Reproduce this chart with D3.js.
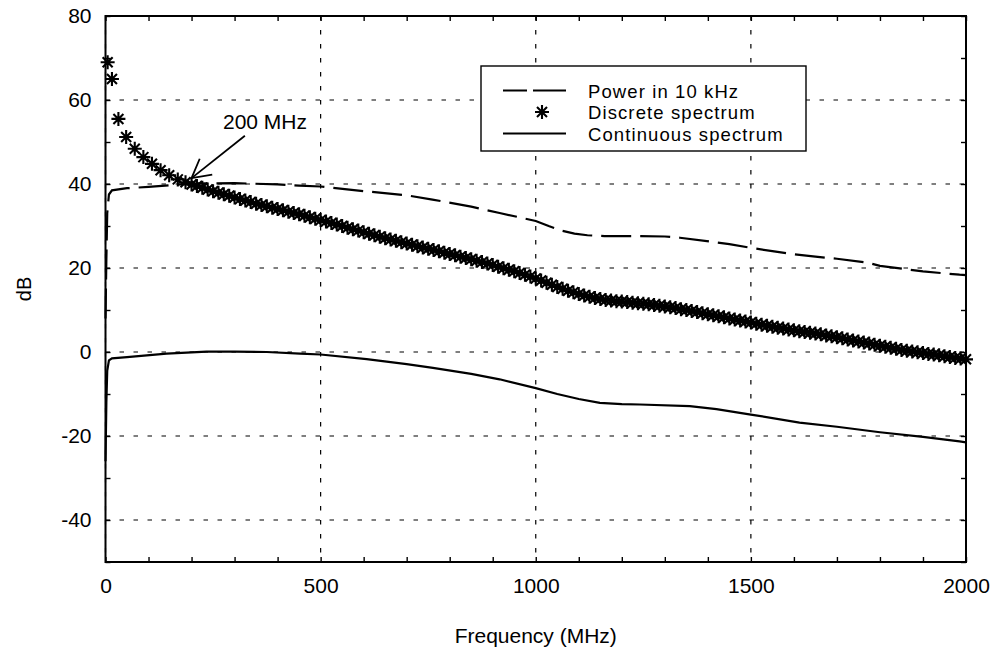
<!DOCTYPE html>
<html lang="en">
<head>
<meta charset="UTF-8">
<title>Spectrum vs frequency</title>
<script src="https://d3js.org/d3.v7.min.js"></script>
<style>
  body { margin: 0; background: #fff; }
  svg text { font-family: "Liberation Sans", Arial, sans-serif; fill: #000; }
</style>
</head>
<body>
<div id="chart"></div>
<script>

// ---- data ----
var freqTicks = [0, 500, 1000, 1500, 2000];
var dbTicks = [-40, -20, 0, 20, 40, 60, 80];

// Power in 10 kHz (dashed)
var powerFreq = [0, 2, 4, 8, 15, 50, 100, 150, 200, 300, 400, 450, 500, 600, 700, 760, 850, 916, 1000, 1030, 1060, 1090, 1120, 1160, 1226, 1300, 1335, 1405, 1450, 1500, 1550, 1590, 1650, 1700, 1770, 1800, 1900, 1985, 2000];
var powerDb   = [8, 22, 33, 37.5, 38.5, 39, 39.3, 39.7, 40.1, 40.2, 39.9, 39.6, 39.4, 38.3, 37.3, 36.3, 34.6, 33.1, 31.2, 30.0, 28.9, 28.2, 27.8, 27.6, 27.6, 27.5, 27.2, 26.3, 25.7, 24.8, 24.0, 23.4, 22.7, 22.2, 21.3, 20.5, 19.2, 18.4, 18.3];

// Discrete spectrum (asterisks)
var discFreq = [5, 15, 30, 48, 68, 88, 108, 128, 148, 168, 186,
  200, 212.5, 225, 237.5, 250, 262.5, 275, 287.5, 300, 312.5, 325, 337.5, 350, 362.5, 375, 387.5,
  400, 412.5, 425, 437.5, 450, 462.5, 475, 487.5, 500, 512.5, 525, 537.5, 550, 562.5, 575, 587.5,
  600, 612.5, 625, 637.5, 650, 662.5, 675, 687.5, 700, 712.5, 725, 737.5, 750, 762.5, 775, 787.5,
  800, 812.5, 825, 837.5, 850, 862.5, 875, 887.5, 900, 912.5, 925, 937.5, 950, 962.5, 975, 987.5,
  1000, 1012.5, 1025, 1037.5, 1050, 1062.5, 1075, 1087.5, 1100, 1112.5, 1125, 1137.5, 1150, 1162.5, 1175, 1187.5,
  1200, 1212.5, 1225, 1237.5, 1250, 1262.5, 1275, 1287.5, 1300, 1312.5, 1325, 1337.5, 1350, 1362.5, 1375, 1387.5,
  1400, 1412.5, 1425, 1437.5, 1450, 1462.5, 1475, 1487.5, 1500, 1512.5, 1525, 1537.5, 1550, 1562.5, 1575, 1587.5,
  1600, 1612.5, 1625, 1637.5, 1650, 1662.5, 1675, 1687.5, 1700, 1712.5, 1725, 1737.5, 1750, 1762.5, 1775, 1787.5,
  1800, 1812.5, 1825, 1837.5, 1850, 1862.5, 1875, 1887.5, 1900, 1912.5, 1925, 1937.5, 1950, 1962.5, 1975, 1987.5, 2000];
var discDb = [69, 65, 55.5, 51.2, 48.4, 46.4, 44.8, 43.3, 42.1, 41.1, 40.4,
  39.9, 39.5, 39.1, 38.7, 38.3, 37.9, 37.55, 37.2, 36.8, 36.4, 36.05, 35.7, 35.3, 35.0, 34.7, 34.35,
  34.05, 33.75, 33.4, 33.1, 32.8, 32.45, 32.1, 31.75, 31.4, 31.05, 30.7, 30.35, 30.0, 29.6, 29.25, 28.9,
  28.5, 28.15, 27.8, 27.45, 27.1, 26.8, 26.5, 26.15, 25.85, 25.55, 25.2, 24.9, 24.6, 24.3, 24.0, 23.65,
  23.35, 23.05, 22.7, 22.4, 22.1, 21.75, 21.4, 21.05, 20.7, 20.3, 19.95, 19.6, 19.2, 18.8, 18.4, 17.95,
  17.5, 17.0, 16.5, 16.0, 15.5, 15.05, 14.6, 14.2, 13.8, 13.45, 13.15, 12.85, 12.6, 12.4, 12.25, 12.1,
  12.0, 11.9, 11.75, 11.6, 11.5, 11.35, 11.2, 11.0, 10.85, 10.65, 10.45, 10.2, 10.0, 9.75, 9.5, 9.25,
  9.0, 8.75, 8.5, 8.25, 8.0, 7.75, 7.5, 7.25, 7.0, 6.75, 6.5, 6.25, 6.0, 5.8, 5.6, 5.35,
  5.15, 4.95, 4.75, 4.6, 4.4, 4.2, 3.95, 3.75, 3.5, 3.25, 3.0, 2.75, 2.5, 2.25, 2.0, 1.75,
  1.5, 1.25, 1.0, 0.75, 0.5, 0.3, 0.1, -0.05, -0.25, -0.45, -0.6, -0.8, -1.0, -1.2, -1.4, -1.55, -1.75];

// Continuous spectrum (solid)
var contFreq = [0, 2, 4, 8, 15, 50, 142, 235, 300, 375, 452, 500, 607, 700, 761, 850, 916, 1000, 1050, 1100, 1149, 1200, 1242, 1358, 1420, 1500, 1613, 1700, 1800, 1900, 1985, 2000];
var contDb   = [-26, -12, -4.5, -2, -1.5, -1.2, -0.4, 0.1, 0.1, 0, -0.4, -0.6, -1.7, -2.9, -3.8, -5.2, -6.5, -8.6, -10, -11.2, -12.1, -12.4, -12.5, -12.9, -13.6, -14.9, -16.8, -17.8, -19.1, -20.2, -21.3, -21.5];

var legendLabels = ["Power in 10 kHz", "Discrete spectrum", "Continuous spectrum"];
var note = { text: "200 MHz", tip: [200, 41.4], tail: [324, 51.5], label: [273, 53.2] };

// ---- layout ----
var W = 992, H = 656;
var margin = {top: 16, right: 26, bottom: 94, left: 105.5};

var svg = d3.select("#chart").append("svg")
  .attr("width", W).attr("height", H)
  .attr("viewBox", "0 0 " + W + " " + H);

var x = d3.scaleLinear().domain([0, 2000]).range([margin.left, W - margin.right]);
var y = d3.scaleLinear().domain([-50, 80]).range([H - margin.bottom, margin.top]);

var minorX = d3.range(0, 2001, 100);
var minorY = d3.range(-50, 81, 10);

// grid
var grid = svg.append("g")
  .attr("stroke", "#000").attr("stroke-width", 1.2)
  .attr("stroke-dasharray", "4.5,9.5").attr("fill", "none");
grid.selectAll(".gx").data(freqTicks).enter().append("line")
  .attr("x1", d => x(d)).attr("x2", d => x(d))
  .attr("y1", y(80)).attr("y2", y(-50));
grid.selectAll(".gy").data(dbTicks).enter().append("line")
  .attr("x1", x(0)).attr("x2", x(2000))
  .attr("y1", d => y(d)).attr("y2", d => y(d));

// axes (ticks inward on all four sides)
function fmtX(d) { return freqTicks.indexOf(d) >= 0 ? d : ""; }
function fmtY(d) { return dbTicks.indexOf(d) >= 0 ? d : ""; }

var axB = svg.append("g").attr("transform", "translate(0," + y(-50) + ")")
  .call(d3.axisBottom(x).tickValues(minorX).tickSizeInner(-5).tickSizeOuter(0).tickPadding(16).tickFormat(fmtX));
var axT = svg.append("g").attr("transform", "translate(0," + y(80) + ")")
  .call(d3.axisTop(x).tickValues(minorX).tickSizeInner(-5).tickSizeOuter(0).tickFormat(""));
var axL = svg.append("g").attr("transform", "translate(" + x(0) + ",0)")
  .call(d3.axisLeft(y).tickValues(minorY).tickSizeInner(-5).tickSizeOuter(0).tickPadding(14).tickFormat(fmtY));
var axR = svg.append("g").attr("transform", "translate(" + x(2000) + ",0)")
  .call(d3.axisRight(y).tickValues(minorY).tickSizeInner(-5).tickSizeOuter(0).tickFormat(""));

[axB, axT, axL, axR].forEach(function(a) {
  a.select(".domain").remove();
  a.selectAll(".tick line").attr("stroke", "#000").attr("stroke-width", 1.4);
  a.selectAll("text").attr("font-size", 21).attr("font-family", "Liberation Sans, Arial, sans-serif");
});

// frame
svg.append("rect")
  .attr("x", x(0)).attr("y", y(80))
  .attr("width", x(2000) - x(0)).attr("height", y(-50) - y(80))
  .attr("fill", "none").attr("stroke", "#000").attr("stroke-width", 2);

// curves
var line = d3.line().x(d => x(d[0])).y(d => y(d[1]));

svg.append("path")
  .datum(d3.zip(powerFreq, powerDb))
  .attr("d", line)
  .attr("fill", "none").attr("stroke", "#000").attr("stroke-width", 2.2)
  .attr("stroke-dasharray", "30,9");

svg.append("path")
  .datum(d3.zip(contFreq, contDb))
  .attr("d", line)
  .attr("fill", "none").attr("stroke", "#000").attr("stroke-width", 2.2);

var star = "M-7,0H7M0,-7V7M-5,-5L5,5M-5,5L5,-5";
svg.append("g").selectAll("path")
  .data(d3.zip(discFreq, discDb))
  .enter().append("path")
  .attr("transform", d => "translate(" + x(d[0]) + "," + y(d[1]) + ")")
  .attr("d", star)
  .attr("fill", "none").attr("stroke", "#000").attr("stroke-width", 2.1);

// annotation
var tx = x(note.tip[0]), ty = y(note.tip[1]);
var sx = x(note.tail[0]), sy = y(note.tail[1]);
var ang = Math.atan2(sy - ty, sx - tx);
var hl = 21, ha = 0.5;
svg.append("line")
  .attr("x1", sx).attr("y1", sy).attr("x2", tx).attr("y2", ty)
  .attr("stroke", "#000").attr("stroke-width", 1.8);
svg.append("path")
  .attr("d", "M" + (tx + hl * Math.cos(ang - ha)) + "," + (ty + hl * Math.sin(ang - ha)) +
             "L" + tx + "," + ty +
             "L" + (tx + hl * Math.cos(ang + ha)) + "," + (ty + hl * Math.sin(ang + ha)))
  .attr("fill", "none").attr("stroke", "#000").attr("stroke-width", 1.8);
svg.append("text")
  .attr("x", x(note.label[0])).attr("y", y(note.label[1]))
  .attr("font-size", 21)
  .text(note.text);

// legend
var lg = svg.append("g");
lg.append("rect")
  .attr("x", 481).attr("y", 66).attr("width", 325).attr("height", 85)
  .attr("fill", "#fff").attr("stroke", "#000").attr("stroke-width", 1.4);
var rowY = [90.5, 112, 133.5];
lg.append("line").attr("x1", 503).attr("x2", 566).attr("y1", rowY[0]).attr("y2", rowY[0])
  .attr("stroke", "#000").attr("stroke-width", 2.2).attr("stroke-dasharray", "24,6,33,100");
lg.append("path").attr("transform", "translate(542," + rowY[1] + ")").attr("d", star)
  .attr("fill", "none").attr("stroke", "#000").attr("stroke-width", 2.1);
lg.append("line").attr("x1", 503).attr("x2", 566).attr("y1", rowY[2]).attr("y2", rowY[2])
  .attr("stroke", "#000").attr("stroke-width", 2.2);
lg.selectAll(".lt").data(legendLabels).enter().append("text")
  .attr("x", 588).attr("y", (d, i) => rowY[i] + 7)
  .attr("font-size", 18.5)
  .attr("letter-spacing", 1.1)
  .text(d => d);

// axis titles
svg.append("text")
  .attr("x", (x(0) + x(2000)) / 2).attr("y", 643)
  .attr("text-anchor", "middle").attr("font-size", 21)
  .text("Frequency (MHz)");
svg.append("text")
  .attr("transform", "translate(31," + ((y(80) + y(-50)) / 2) + ") rotate(-90)")
  .attr("text-anchor", "middle").attr("font-size", 20)
  .text("dB");

</script>
</body>
</html>
